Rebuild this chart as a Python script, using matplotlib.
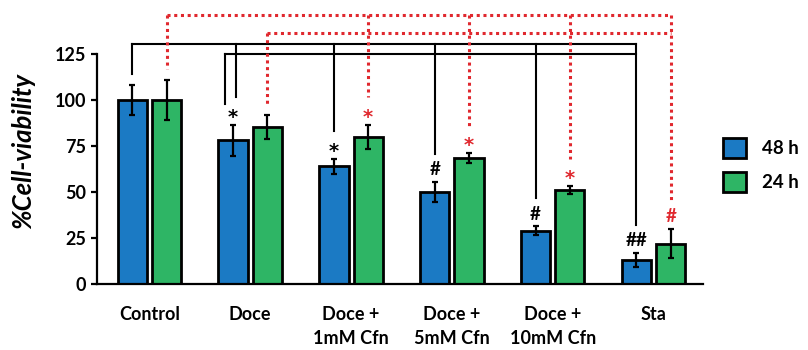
import numpy as np
import matplotlib
matplotlib.use("Agg")
import matplotlib.pyplot as plt
from matplotlib.patches import Patch

plt.rcParams['font.family'] = ['Lato', 'DejaVu Sans']
plt.rcParams['font.weight'] = 'bold'

# data
categories = ["Control", "Doce", "Doce +\n1mM Cfn", "Doce +\n5mM Cfn",
              "Doce +\n10mM Cfn", "Sta"]
h48 = [100, 78, 64, 50, 29, 13]
h48_err = [8, 8.5, 4, 5.5, 2.5, 4]
h24 = [100, 85.5, 80, 68.5, 51, 22]
h24_err = [11, 6.5, 6.5, 2.5, 2, 8]
marks_48 = ["", "*", "*", "#", "#", "##"]
marks_24 = ["", "", "*", "*", "*", "#"]

blue = "#1b7ac4"
green = "#2eb565"
red = "#e0282e"

fig = plt.figure(figsize=(8.08, 3.5), dpi=100)
ax = fig.add_axes([0.120, 0.1886, 0.750, 0.778])

x = np.arange(len(categories))
off, w = 0.17, 0.29
ekw = dict(elinewidth=1.6, capsize=2.5, capthick=1.6, ecolor='black')
ax.bar(x - off, h48, w, yerr=h48_err, color=blue, edgecolor='black',
       linewidth=2.0, error_kw=ekw, zorder=2)
ax.bar(x + off, h24, w, yerr=h24_err, color=green, edgecolor='black',
       linewidth=2.0, error_kw=ekw, zorder=2)


def put_mark(xpos, top, mark, color):
    if mark == "*":
        ax.text(xpos, top + 1.2, mark, ha='center', va='baseline',
                fontsize=14, color=color, family='DejaVu Sans')
    elif mark:
        ax.text(xpos, top + 3.5, mark, ha='center', va='baseline',
                fontsize=13.5, color=color)


# significance marks
for i in range(len(categories)):
    put_mark(x[i] - off, h48[i] + h48_err[i], marks_48[i], 'black')
    put_mark(x[i] + off, h24[i] + h24_err[i], marks_24[i], red)


def drop_end(vals, errs, marks, i):
    return vals[i] + errs[i] + (15 if marks[i] else 6)


# black brackets (48 h)
blk = dict(color='black', lw=1.5, solid_capstyle='projecting', zorder=3)
top_a, top_b = 130.4, 125.2
ax.plot([x[0] - off, x[-1] - off], [top_a, top_a], **blk)
ax.plot([x[1] - off - 0.08, x[-1] - off], [top_b, top_b], **blk)
for i in [0, 2, 3, 4, 5]:
    ax.plot([x[i] - off] * 2, [top_a, drop_end(h48, h48_err, marks_48, i)], **blk)
ax.plot([x[1] - off + 0.03] * 2, [top_a, drop_end(h48, h48_err, marks_48, 1)], **blk)
ax.plot([x[1] - off - 0.08] * 2, [top_b, drop_end(h48, h48_err, marks_48, 1) - 3.5], **blk)

# red dotted brackets (24 h)
rd = dict(color=red, lw=2.2, dashes=(1, 1.2), dash_capstyle='butt', zorder=3)
top_c, top_d = 146.2, 136.6
ax.plot([x[0] + off, x[-1] + off], [top_c, top_c], **rd)
ax.plot([x[1] + off, x[-1] + off], [top_d, top_d], **rd)
for i in [0, 2, 3, 4, 5]:
    ax.plot([x[i] + off] * 2, [top_c, drop_end(h24, h24_err, marks_24, i)], **rd)
ax.plot([x[1] + off] * 2, [top_d, drop_end(h24, h24_err, marks_24, 1)], **rd)

ax.set_xlim(-0.52, 5.49)
ax.set_ylim(0, 148)
ax.set_yticks(range(0, 126, 25))
ax.set_xticks(x)
ax.set_xticklabels(categories, linespacing=1.45)
ax.tick_params(axis='x', length=0, pad=16, labelsize=13)
ax.tick_params(axis='y', length=4, width=1.6, pad=4, labelsize=13)
for s in ['top', 'right']:
    ax.spines[s].set_visible(False)
for s in ['left', 'bottom']:
    ax.spines[s].set_linewidth(1.6)
ax.spines['left'].set_bounds(0, 125)

fig.text(23 / 808, 1 - 151 / 350, "%Cell-viability", rotation=90,
         ha='center', va='center', fontsize=18.5, fontstyle='italic',
         fontweight='bold')

handles = [Patch(facecolor=blue, edgecolor='black', linewidth=2),
           Patch(facecolor=green, edgecolor='black', linewidth=2)]
fig.legend(handles, ["48 h", "24 h"], loc='upper left',
           bbox_to_anchor=(723 / 808, 1 - 138 / 350), frameon=False,
           fontsize=13.5, handlelength=1.25, handleheight=1.25,
           labelspacing=0.75, handletextpad=0.85, borderpad=0,
           borderaxespad=0)

fig.savefig("out.png", dpi=100)
